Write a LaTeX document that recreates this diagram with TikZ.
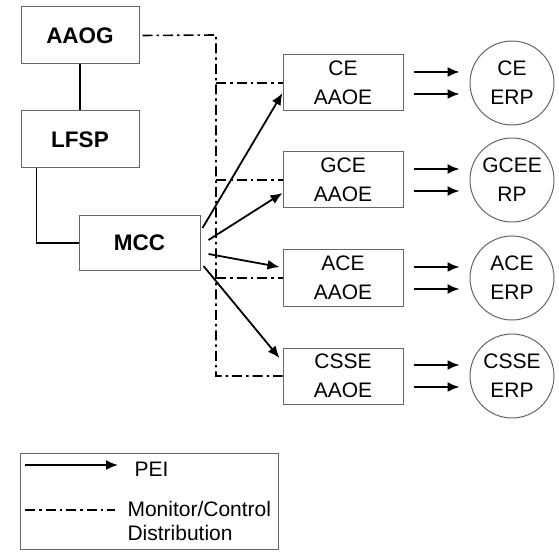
\documentclass[tikz,border=0pt]{standalone}
\usepackage{fontspec}
\setmainfont{Liberation Sans}
\usetikzlibrary{arrows.meta}

\begin{document}
\begin{tikzpicture}[x=1pt,y=-1pt,
    unit/.style={draw=black!60,line width=1pt,minimum width=118pt,minimum height=57pt,font=\fontsize{22.5}{26}\selectfont\bfseries},
    aaoe/.style={draw=black!60,line width=1pt,minimum width=120pt,minimum height=56pt,align=center,font=\fontsize{21}{29}\selectfont},
    erp/.style={draw=black!60,line width=1pt,circle,minimum size=84pt,inner sep=0pt,align=center,font=\fontsize{21}{29}\selectfont},
    pei/.style={line width=1.8pt,-{Latex[length=12pt,width=10pt]}},
    mc/.style={line width=1.6pt,dash pattern=on 10pt off 4pt on 2.5pt off 4pt},
    link/.style={line width=1.8pt},
    legtext/.style={font=\fontsize{21}{24}\selectfont,align=left}]
    \useasboundingbox (0,0) rectangle (559,553);
    % left column
    \node[unit] (aaog) at (80,35.5) {AAOG};
    \node[unit] (lfsp) at (80,139.5) {LFSP};
    \node[unit,minimum width=121pt,minimum height=54pt] (mcc) at (139.5,243) {MCC};
    \draw[link] (aaog) -- (lfsp);
    \draw[link] ([xshift=16pt]lfsp.south west) |- (mcc.west);
    % AAOE boxes and ERP circles
    \node[aaoe] (ceb) at (343,83) {CE\\AAOE};
    \node[aaoe] (gceb) at (343,180) {GCE\\AAOE};
    \node[aaoe] (aceb) at (343,278) {ACE\\AAOE};
    \node[aaoe] (csseb) at (343,376) {CSSE\\AAOE};
    \node[erp] (cec) at (512,83) {CE\\ERP};
    \node[erp] (gcec) at (512,180) {GCEE\\RP};
    \node[erp] (acec) at (512,278) {ACE\\ERP};
    \node[erp] (cssec) at (512,376) {CSSE\\ERP};
    \foreach \b/\e in {ceb/cec,gceb/gcec,aceb/acec,csseb/cssec}{
        \draw[pei,shorten <=10pt,shorten >=10pt] ([yshift=11pt]\b.east) -- ([yshift=11pt]\b.east -| \e.west);
        \draw[pei,shorten <=10pt,shorten >=10pt] ([yshift=-11pt]\b.east) -- ([yshift=-11pt]\b.east -| \e.west);
    }
    % monitor/control distribution
    \coordinate (trunk) at (216,35);
    \draw[mc] ([xshift=3pt]aaog.east) -- (trunk) -- (trunk |- csseb.west) -- (csseb.west);
    \foreach \b in {ceb,gceb,aceb}{\draw[mc] (trunk |- \b.west) -- (\b.west);}
    % PEI from MCC
    \draw[pei] ([xshift=2pt,yshift=15pt]mcc.east) -- ([yshift=-10pt]ceb.west);
    \draw[pei] ([xshift=8pt,yshift=3pt]mcc.east) -- ([yshift=-13pt]gceb.west);
    \draw[pei] ([xshift=8pt,yshift=-11pt]mcc.east) -- ([xshift=-3pt,yshift=11pt]aceb.west);
    \draw[pei] ([xshift=3pt,yshift=-23pt]mcc.east) -- ([xshift=-3pt,yshift=18pt]csseb.west);
    % legend
    \draw[draw=black!60,line width=1pt] (20,453) rectangle (278,549);
    \coordinate (pa) at (25,465);
    \coordinate (pb) at (118,465);
    \coordinate (ma) at (25,510);
    \coordinate (mb) at (115,510);
    \draw[pei] (pa) -- (pb);
    \draw[mc] (ma) -- (mb);
    \node[legtext,anchor=west] (peitxt) at (131,469) {PEI};
    \node[legtext,anchor=west] (mctxt) at (124,521) {Monitor/Control\\Distribution};
\end{tikzpicture}
\end{document}
